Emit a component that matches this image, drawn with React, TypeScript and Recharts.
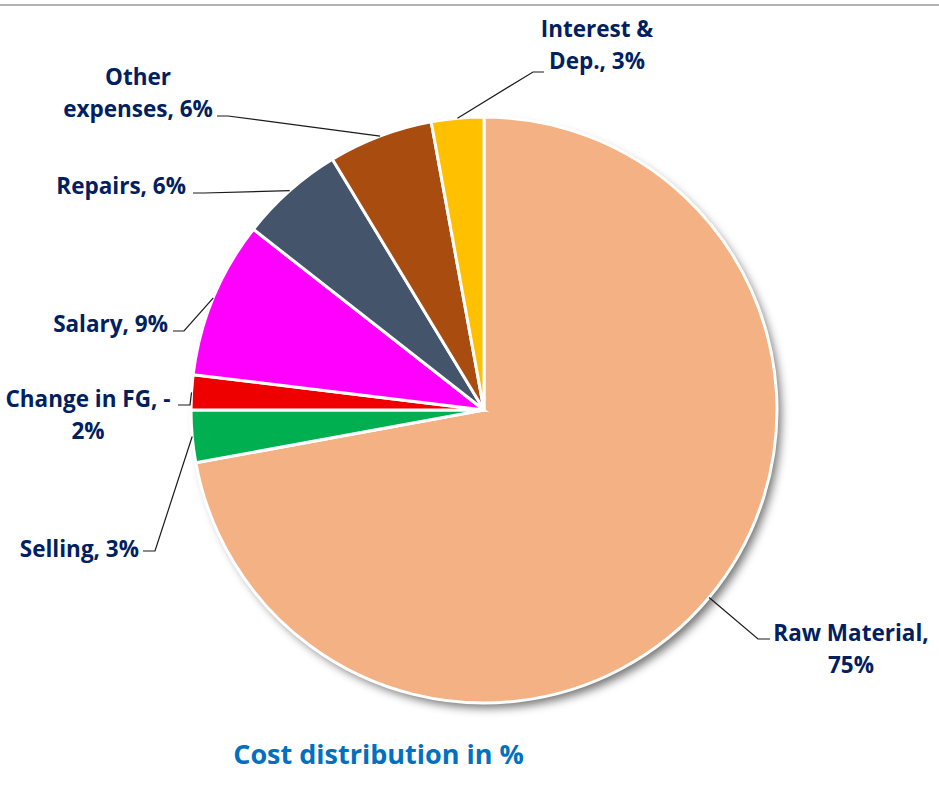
import React from "react"
import { PieChart, Pie, Cell } from "recharts"

const categories = [
  "Raw Material",
  "Selling",
  "Change in FG",
  "Salary",
  "Repairs",
  "Other expenses",
  "Interest & Dep.",
]
// percent of cost; Change in FG is negative (Excel plots its absolute size)
const values = [75, 3, -2, 9, 6, 6, 3]
const colors = ["#F4B183", "#00B050", "#EE0000", "#FF00FF", "#44546A", "#A84C10", "#FFC000"]

const data = categories.map((name, i) => ({
  name,
  value: values[i],
  size: Math.abs(values[i]),
}))

// label placement relative to pie centre: tail end, elbow, text anchor, wrap width (chars)
const labelLayout = [
  { tail: [286, 229], elbow: [274, 229], text: [367, 222], anchor: "middle", wrap: 13 },
  { tail: [-341, 141], elbow: [-329, 141], text: [-345, 138], anchor: "end", wrap: 40 },
  { tail: [-306, -5], elbow: [-294, -5], text: [-396, -12], anchor: "middle", wrap: 15 },
  { tail: [-311, -79], elbow: [-300, -79], text: [-316, -87], anchor: "end", wrap: 40 },
  { tail: [-291, -217], elbow: [-280, -217], text: [-298, -225], anchor: "end", wrap: 40 },
  { tail: [-267, -294], elbow: [-256, -294], text: [-346, -334], anchor: "middle", wrap: 12 },
  { tail: [60, -338], elbow: [49, -338], text: [113, -382], anchor: "middle", wrap: 10 },
]

const FONT = "'Open Sans', Lato, sans-serif"
const LABEL_COLOR = "#002060"
const RAD = Math.PI / 180

function wrapText(text: string, max: number): string[] {
  const tokens = text.match(/[^ -]+-?|-| /g) || [text]
  const lines: string[] = []
  let cur = ""
  for (const t of tokens) {
    if ((cur + t).trimEnd().length > max && cur.trim()) {
      lines.push(cur.trim())
      cur = t === " " ? "" : t
    } else {
      cur += t
    }
  }
  if (cur.trim()) lines.push(cur.trim())
  return lines
}

function renderLabel(props: any) {
  const { cx, cy, midAngle, outerRadius, index } = props
  const lay = labelLayout[index]
  const ex = cx + outerRadius * Math.cos(-midAngle * RAD)
  const ey = cy + outerRadius * Math.sin(-midAngle * RAD)
  const d = data[index]
  const lines = wrapText(`${d.name}, ${d.value}%`, lay.wrap)
  const pts = `${ex},${ey} ${cx + lay.elbow[0]},${cy + lay.elbow[1]} ${cx + lay.tail[0]},${cy + lay.tail[1]}`
  return (
    <g key={`lbl-${index}`}>
      <polyline points={pts} fill="none" stroke="#1a1a1a" strokeWidth={1.2} />
      <text
        x={cx + lay.text[0]}
        y={cy + lay.text[1]}
        textAnchor={lay.anchor as any}
        fill={LABEL_COLOR}
        fontFamily={FONT}
        fontWeight={700}
        fontSize={22.5}
      >
        {lines.map((ln, i) => (
          <tspan key={i} x={cx + lay.text[0]} dy={i === 0 ? 0 : 32.5} dominantBaseline="central">
            {ln}
          </tspan>
        ))}
      </text>
    </g>
  )
}

export default function App() {
  return (
    <div
      style={{
        position: "absolute",
        left: 0,
        top: 0,
        width: 939,
        height: 802,
        background: "#fff",
        overflow: "hidden",
      }}
    >
      <style>{`.pie-shadow .recharts-sector { filter: blur(5px); }`}</style>
      <div
        style={{
          position: "absolute",
          left: 0,
          top: 4,
          width: 939,
          height: 2,
          background: "#B4B4B4",
        }}
      />
      <PieChart width={939} height={802} margin={{ top: 0, right: 0, bottom: 0, left: 0 }}>
        <Pie
          className="pie-shadow"
          data={data}
          dataKey="size"
          nameKey="name"
          cx={489}
          cy={416}
          outerRadius={292}
          startAngle={90}
          endAngle={-270}
          stroke="none"
          isAnimationActive={false}
        >
          {data.map((_, i) => (
            <Cell key={`sh-${i}`} fill="rgba(0,0,0,0.55)" />
          ))}
        </Pie>
        <Pie
          data={data}
          dataKey="size"
          nameKey="name"
          cx={484}
          cy={410}
          outerRadius={293}
          startAngle={90}
          endAngle={-270}
          stroke="#ffffff"
          strokeWidth={3}
          label={renderLabel}
          labelLine={false}
          isAnimationActive={false}
        >
          {data.map((_, i) => (
            <Cell key={`cell-${i}`} fill={colors[i]} />
          ))}
        </Pie>
      </PieChart>
      <div
        style={{
          position: "absolute",
          left: 0,
          top: 735,
          width: 757,
          textAlign: "center",
          fontFamily: FONT,
          fontWeight: 700,
          fontSize: 27,
          color: "#0070C0",
          lineHeight: "38px",
        }}
      >
        Cost distribution in %
      </div>
    </div>
  )
}
